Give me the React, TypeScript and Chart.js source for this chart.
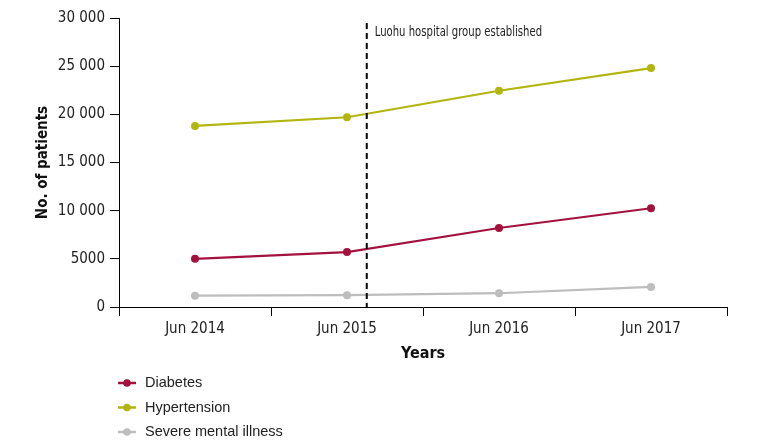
import React, { useEffect, useRef } from "react";
import { Chart, registerables } from "chart.js";

Chart.register(...registerables);

const categories = ["Jun 2014", "Jun 2015", "Jun 2016", "Jun 2017"];
const diabetes = [5000, 5700, 8200, 10250];
const hypertension = [18800, 19700, 22450, 24800];
const mentalIllness = [1180, 1230, 1430, 2080];
const seriesNames = ["Diabetes", "Hypertension", "Severe mental illness"];
const yTicks = [0, 5000, 10000, 15000, 20000, 25000, 30000];
const eventPosition = 1.13; // in category units (between Jun 2015 and Jun 2016)
const eventLabel = "Luohu hospital group established";

const COLORS = ["#a3123f", "#b3b50f", "#bdbdbd"];
const NARROW = "'Liberation Sans Narrow', 'DejaVu Sans Condensed', 'Liberation Sans', sans-serif";
const REGULAR = "'Liberation Sans', 'Open Sans', sans-serif";

function fmt(v: number): string {
  if (v >= 10000) {
    const s = String(v);
    return s.slice(0, s.length - 3) + " " + s.slice(s.length - 3);
  }
  return String(v);
}

const eventPlugin = {
  id: "eventLine",
  afterDatasetsDraw(chart: any) {
    const { ctx, chartArea, scales } = chart;
    const xs = scales.x;
    const p1 = xs.getPixelForValue(Math.floor(eventPosition));
    const p2 = xs.getPixelForValue(Math.floor(eventPosition) + 1);
    const x = p1 + (eventPosition - Math.floor(eventPosition)) * (p2 - p1);
    ctx.save();
    ctx.strokeStyle = "#000";
    ctx.lineWidth = 2;
    ctx.setLineDash([6, 4]);
    ctx.beginPath();
    ctx.moveTo(x, chartArea.top + 5);
    ctx.lineTo(x, chartArea.bottom);
    ctx.stroke();
    ctx.setLineDash([]);
    ctx.fillStyle = "#222";
    ctx.font = `14px ${NARROW}`;
    ctx.textBaseline = "middle";
    ctx.textAlign = "left";
    ctx.translate(x + 8, chartArea.top + 14);
    ctx.scale(0.8, 1);
    ctx.fillText(eventLabel, 0, 0);
    ctx.restore();
  },
};

const legendPlugin = {
  id: "stackLegend",
  afterDraw(chart: any) {
    const { ctx, chartArea } = chart;
    ctx.save();
    chart.data.datasets.forEach((ds: any, i: number) => {
      const y = chartArea.bottom + 76 + i * 24.5;
      const x0 = chartArea.left - 1;
      ctx.strokeStyle = ds.borderColor;
      ctx.lineWidth = 2.5;
      ctx.beginPath();
      ctx.moveTo(x0, y);
      ctx.lineTo(x0 + 18, y);
      ctx.stroke();
      ctx.fillStyle = ds.borderColor;
      ctx.beginPath();
      ctx.arc(x0 + 9, y, 3.8, 0, Math.PI * 2);
      ctx.fill();
      ctx.fillStyle = "#222";
      ctx.font = `14.5px ${REGULAR}`;
      ctx.textBaseline = "middle";
      ctx.textAlign = "left";
      ctx.fillText(ds.label, x0 + 27, y);
    });
    ctx.restore();
  },
};

export default function App() {
  const ref = useRef<HTMLCanvasElement | null>(null);
  useEffect(() => {
    if (!ref.current) return;
    const values = [diabetes, hypertension, mentalIllness];
    const chart = new Chart(ref.current, {
      type: "line",
      data: {
        labels: categories,
        datasets: values.map((v, i) => ({
          label: seriesNames[i],
          data: v,
          borderColor: COLORS[i],
          backgroundColor: COLORS[i],
          borderWidth: 2.2,
          pointRadius: 4,
          pointBorderWidth: 0,
          tension: 0,
          fill: false,
        })),
      },
      options: {
        animation: false,
        responsive: true,
        maintainAspectRatio: false,
        layout: { padding: { left: 0, right: 44, top: 18, bottom: 0 } },
        plugins: { legend: { display: false }, tooltip: { enabled: false } },
        scales: {
          x: {
            offset: true,
            grid: {
              display: true,
              drawOnChartArea: false,
              drawTicks: true,
              tickLength: 9,
              color: "#000",
              offset: true,
            },
            border: { display: true, color: "#000", width: 1 },
            ticks: { color: "#222", font: { family: NARROW, size: 15 }, padding: 4 },
            title: {
              display: true,
              text: "Years",
              color: "#111",
              font: { family: NARROW, size: 16, weight: "bold" },
              padding: { top: 0, bottom: 84 },
            },
            afterFit: (s: any) => {
              s.height = 140;
            },
          },
          y: {
            min: 0,
            max: 30000,
            afterBuildTicks: (s: any) => {
              s.ticks = yTicks.map((v) => ({ value: v }));
            },
            grid: {
              display: true,
              drawOnChartArea: false,
              drawTicks: true,
              tickLength: 9,
              color: "#000",
            },
            border: { display: true, color: "#000", width: 1 },
            ticks: {
              color: "#222",
              font: { family: NARROW, size: 15 },
              padding: 5,
              callback: (v: any) => fmt(Number(v)),
            },
            title: {
              display: true,
              text: "No. of patients",
              color: "#111",
              font: { family: NARROW, size: 15, weight: "bold" },
              padding: { top: 34, bottom: 0 },
            },
            afterFit: (s: any) => {
              s.width = 119;
            },
          },
        },
      },
      plugins: [eventPlugin, legendPlugin],
    });
    return () => chart.destroy();
  }, []);
  return (
    <div style={{ position: "fixed", left: 0, top: 0, width: 771, height: 447, background: "#fff" }}>
      <canvas ref={ref} />
    </div>
  );
}
